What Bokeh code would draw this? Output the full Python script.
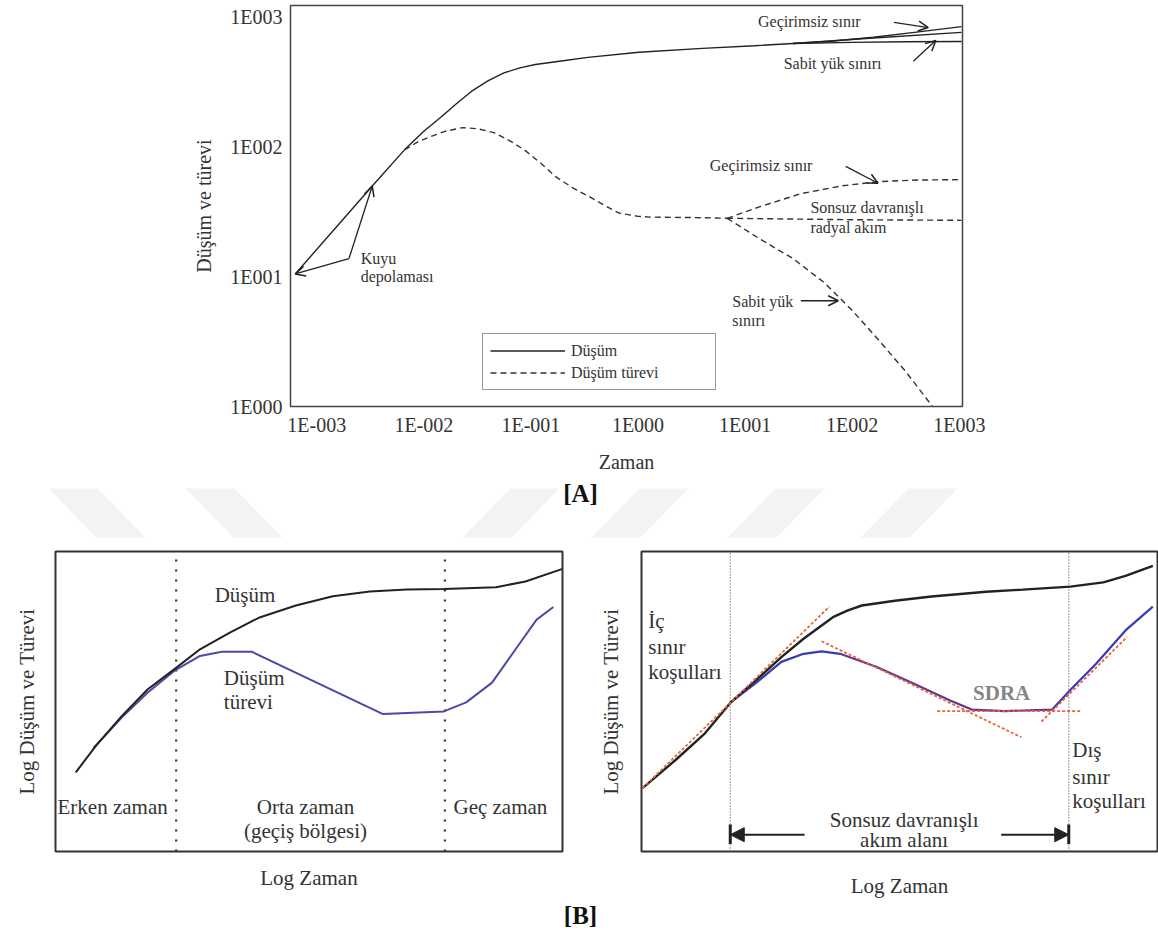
from bokeh.plotting import figure
from bokeh.models import (Range1d, FixedTicker, Label, Arrow, OpenHead, NormalHead,
                          Legend, LegendItem)
from bokeh.layouts import column, row
from bokeh.embed import file_html
from bokeh.resources import INLINE

SERIF = "Liberation Serif"
INK = "#222222"
TEXT = "#333333"

# ---------------- [A] drawdown and derivative on log-log axes ----------------
time_ticks = [1e-3, 1e-2, 1e-1, 1e0, 1e1, 1e2, 1e3]
time_tick_labels = ["1E-003", "1E-002", "1E-001", "1E000", "1E001", "1E002", "1E003"]
dd_ticks = [1e0, 1e1, 1e2, 1e3]
dd_tick_labels = ["1E000", "1E001", "1E002", "1E003"]

# drawdown (Düşüm), common part
t_drawdown = [6.3e-4, 3.3e-3, 6.6e-3, 1.0e-2, 1.45e-2, 2.0e-2, 2.8e-2, 4.0e-2, 5.6e-2,
              7.9e-2, 0.11, 0.20, 0.34, 1.02, 4.0, 12.3, 28]
s_drawdown = [10.5, 50, 95, 132, 170, 214, 269, 324, 372, 407, 432, 462, 490, 537, 575, 603, 627]
# late-time branches of the drawdown
t_dd_noflow = [28, 63, 158, 398, 1050]
s_dd_noflow = [627, 653, 700, 767, 845]
t_dd_radial = [28, 158, 1050]
s_dd_radial = [627, 692, 764]
t_dd_head = [28, 100, 316, 1050]
s_dd_head = [627, 640, 647, 650]

# derivative (Düşüm türevi), common part
t_deriv = [6.6e-3, 8.9e-3, 1.15e-2, 1.58e-2, 2.3e-2, 3.2e-2, 4.5e-2, 6.3e-2, 8.7e-2, 0.126,
           0.17, 0.25, 0.34, 0.50, 0.66, 1.0, 1.29, 4.0, 6.8]
s_deriv = [95, 110, 120, 132, 141, 138, 129, 112, 95, 74, 59, 48, 42, 35, 31, 29.2, 28.8, 28.5, 28.2]
# late-time branches of the derivative
t_der_noflow = [6.8, 13.8, 33, 78, 174, 398, 1050]
s_der_noflow = [28.2, 34.7, 43.6, 50, 54, 55.6, 56]
t_der_radial = [6.8, 100, 1050]
s_der_radial = [28.2, 27.5, 27.2]
t_der_head = [6.8, 13.8, 28, 54, 98, 174, 316, 562]
s_der_head = [28.2, 19.5, 13.8, 9.1, 5.6, 3.3, 1.86, 1.0]

# annotation texts of [A] (left edge / vertical centre)
a_notes = ["Geçirimsiz sınır", "Sabit yük sınırı", "Geçirimsiz sınır", "Sonsuz davranışlı",
           "radyal akım", "Sabit yük", "sınırı", "Kuyu", "depolaması"]
a_note_t = [13.2, 22.9, 4.68, 40.7, 40.7, 7.59, 7.59, 2.57e-3, 2.57e-3]
a_note_s = [933, 437, 72.4, 33.9, 24.0, 6.46, 4.57, 13.8, 10.0]

# pointer arrows of [A]: start -> tip
a_arrow_t0 = [245, 372, 87, 33.1, 2.0e-3, 2.0e-3]
a_arrow_s0 = [912, 457, 70.8, 6.53, 13.8, 13.8]
a_arrow_t1 = [513, 603, 174, 74.1, 6.3e-4, 3.3e-3]
a_arrow_s1 = [832, 661, 52.5, 6.53, 10.5, 50]

legend_labels = ["Düşüm", "Düşüm türevi"]

pA = figure(width=1158, height=475, x_axis_type="log", y_axis_type="log",
            x_range=Range1d(10 ** -3.245, 10 ** 3.03), y_range=Range1d(1.0, 10 ** 3.09),
            output_backend="svg", toolbar_location=None,
            min_border_left=290, min_border_right=196, min_border_top=5, min_border_bottom=69,
            background_fill_color="white", border_fill_color="white")
pA.outline_line_color = "#444444"
pA.outline_line_width = 1.5
pA.grid.visible = False

for ax, ticks, labels in ((pA.xaxis[0], time_ticks, time_tick_labels),
                          (pA.yaxis[0], dd_ticks, dd_tick_labels)):
    ax.ticker = FixedTicker(ticks=ticks)
    ax.major_label_overrides = {float(v): s for v, s in zip(ticks, labels)}
    ax.major_tick_line_color = None
    ax.major_tick_out = 0
    ax.major_tick_in = 0
    ax.minor_tick_line_color = None
    ax.minor_tick_out = 0
    ax.axis_line_color = None
    ax.major_label_text_font = SERIF
    ax.major_label_text_font_size = "20px"
    ax.major_label_text_color = TEXT
    ax.axis_label_text_font = SERIF
    ax.axis_label_text_font_style = "normal"
    ax.axis_label_text_color = TEXT

pA.xaxis.axis_label = "Zaman"
pA.xaxis.axis_label_text_font_size = "20px"
pA.xaxis.major_label_standoff = 7
pA.xaxis.axis_label_standoff = 12
pA.yaxis.axis_label = "Düşüm ve türevi"
pA.yaxis.axis_label_text_font_size = "20px"
pA.yaxis.major_label_standoff = 8
pA.yaxis.axis_label_standoff = 12

solid = dict(line_color=INK, line_width=1.4)
dashed = dict(line_color="#333333", line_width=1.4, line_dash="6 4")

r_dd = pA.line(t_drawdown, s_drawdown, **solid)
for tx, sy in ((t_dd_noflow, s_dd_noflow), (t_dd_radial, s_dd_radial), (t_dd_head, s_dd_head)):
    pA.line(tx, sy, **solid)
r_der = pA.line(t_deriv, s_deriv, **dashed)
for tx, sy in ((t_der_noflow, s_der_noflow), (t_der_radial, s_der_radial), (t_der_head, s_der_head)):
    pA.line(tx, sy, **dashed)

for txt, tx, sy in zip(a_notes, a_note_t, a_note_s):
    pA.add_layout(Label(x=tx, y=sy, text=txt, text_font=SERIF, text_font_size="16px",
                        text_color=TEXT, text_baseline="middle", text_align="left"))

for x0, y0, x1, y1 in zip(a_arrow_t0, a_arrow_s0, a_arrow_t1, a_arrow_s1):
    pA.add_layout(Arrow(x_start=x0, y_start=y0, x_end=x1, y_end=y1,
                        line_color=INK, line_width=1.3,
                        end=OpenHead(size=10, line_color=INK, line_width=1.5)))

legA = Legend(items=[LegendItem(label=legend_labels[0], renderers=[r_dd]),
                     LegendItem(label=legend_labels[1], renderers=[r_der])],
              location=(192, 16), orientation="vertical",
              glyph_width=75, glyph_height=19, label_height=19, label_width=137,
              label_standoff=6, padding=7, spacing=3, margin=0,
              label_text_font=SERIF, label_text_font_size="16px", label_text_color=TEXT,
              border_line_color="#333333", border_line_width=1.5, background_fill_alpha=1)
pA.add_layout(legA)

# ---------------- band with the [A] caption and the page watermark ----------------
wm_back_x = [48, 185]             # "\" stripes, left x at the top edge
wm_fwd_x = [510, 639, 775, 908]   # "/" stripes, left x at the top edge
wm_top, wm_bottom, wm_w, wm_shift = 13, 62, 49, 48

band = figure(width=1158, height=70, x_range=Range1d(0, 1158), y_range=Range1d(70, 0),
              output_backend="svg", toolbar_location=None, min_border=0)
band.axis.visible = False
band.grid.visible = False
band.outline_line_color = None
xs, ys = [], []
for x0 in wm_back_x:
    xs.append([x0, x0 + wm_w, x0 + wm_w + wm_shift, x0 + wm_shift])
    ys.append([wm_top, wm_top, wm_bottom, wm_bottom])
for x0 in wm_fwd_x:
    xs.append([x0, x0 + wm_w, x0 + wm_w - wm_shift, x0 - wm_shift])
    ys.append([wm_top, wm_top, wm_bottom, wm_bottom])
band.patches(xs, ys, fill_color="#f3f3f3", line_color=None)
band.add_layout(Label(x=580, y=18, text="[A]", text_font=SERIF, text_font_size="25px",
                      text_font_style="bold", text_color="#111111",
                      text_align="center", text_baseline="middle"))

# ---------------- [B] schematic diagnostic plots (log axes, no scale) ----------------
# left: flow periods
bl_t = [0.40, 0.80, 1.31, 1.82, 2.34, 2.85, 3.43, 4.01, 4.74, 5.47, 6.20, 6.93, 7.66, 8.69, 9.27, 10.0]
bl_s = [2.64, 3.53, 4.52, 5.41, 6.07, 6.74, 7.29, 7.79, 8.20, 8.51, 8.67, 8.73, 8.75, 8.81, 9.00, 9.42]
bl_dt = [0.75, 1.31, 1.82, 2.34, 2.85, 3.28, 3.87, 6.46, 7.66, 8.10, 8.61, 9.12, 9.49, 9.82]
bl_ds = [3.45, 4.47, 5.30, 6.02, 6.52, 6.66, 6.66, 4.58, 4.67, 4.97, 5.63, 6.85, 7.73, 8.15]
bl_bounds = [2.38, 7.68]
bl_notes = ["Düşüm", "Düşüm", "türevi", "Erken zaman", "Orta zaman", "(geçiş bölgesi)", "Geç zaman"]
bl_note_x = [3.14, 3.32, 3.32, 0.04, 4.93, 4.93, 7.85]
bl_note_y = [8.56, 5.80, 4.97, 1.50, 1.50, 0.70, 1.50]
bl_note_align = ["left", "left", "left", "left", "center", "center", "left"]

# right: boundary conditions and infinite-acting radial flow
br_t = [0.02, 0.66, 1.23, 1.74, 2.22, 2.71, 3.14, 3.71, 4.0, 4.27, 4.91, 5.62, 6.68, 7.39, 8.31, 8.95, 9.38, 9.91]
br_s = [2.11, 3.05, 3.94, 4.99, 5.71, 6.48, 7.09, 7.81, 8.04, 8.20, 8.36, 8.50, 8.66, 8.73, 8.83, 8.97, 9.19, 9.52]
br_dt = [1.74, 2.22, 2.71, 3.14, 3.49, 3.85, 4.56, 5.27, 5.97, 6.40, 7.04, 7.96, 8.31, 8.81, 9.38, 9.91]
br_ds = [4.99, 5.62, 6.32, 6.59, 6.67, 6.59, 6.15, 5.60, 5.04, 4.73, 4.68, 4.73, 5.38, 6.26, 7.37, 8.16]
br_tan_t = [[0.02, 3.64], [3.49, 7.36], [5.73, 8.53], [7.75, 9.41]]
br_tan_s = [[2.11, 8.16], [7.01, 3.81], [4.68, 4.68], [4.33, 7.15]]
br_bounds = [1.72, 8.28]
br_notes = ["İç", "sınır", "koşulları", "Dış", "sınır", "koşulları",
            "Sonsuz davranışlı", "akım alanı"]
br_note_x = [0.13, 0.13, 0.13, 8.35, 8.35, 8.35, 5.09, 5.09]
br_note_y = [7.70, 6.81, 5.98, 3.38, 2.50, 1.67, 1.06, 0.40]
br_note_align = ["left", "left", "left", "left", "left", "left", "center", "center"]
br_span_y = 0.56
br_span_inner = [3.16, 6.97]


def schematic(width, left, right, top, bottom):
    p = figure(width=width, height=355, x_range=Range1d(0, 10), y_range=Range1d(0, 10),
               output_backend="svg", toolbar_location=None,
               min_border_left=left, min_border_right=right,
               min_border_top=top, min_border_bottom=bottom)
    p.grid.visible = False
    p.outline_line_color = "#333333"
    p.outline_line_width = 2
    for ax in (p.xaxis[0], p.yaxis[0]):
        ax.ticker = FixedTicker(ticks=[])
        ax.major_tick_line_color = None
        ax.major_tick_out = 0
        ax.major_tick_in = 0
        ax.minor_tick_line_color = None
        ax.minor_tick_out = 0
        ax.axis_line_color = None
        ax.major_label_text_font_size = "0px"
        ax.major_label_standoff = 0
        ax.axis_label_text_font = SERIF
        ax.axis_label_text_font_size = "21px"
        ax.axis_label_text_font_style = "normal"
        ax.axis_label_text_color = TEXT
    p.xaxis.axis_label = "Log Zaman"
    p.yaxis.axis_label = "Log Düşüm ve Türevi"
    return p


def notes(p, texts, xs_, ys_, aligns, size="21px", color=TEXT, style="normal"):
    for txt, x, y, al in zip(texts, xs_, ys_, aligns):
        p.add_layout(Label(x=x, y=y, text=txt, text_font=SERIF, text_font_size=size,
                           text_color=color, text_font_style=style,
                           text_align=al, text_baseline="middle"))


pBL = schematic(595, 55, 33, 6, 46)
pBL.xaxis.axis_label_standoff = 14
pBL.yaxis.axis_label_standoff = 17
for xb in bl_bounds:
    pBL.line([xb, xb], [0, 10], line_color="#333333", line_width=2.2, line_dash="2 8")
pBL.line(bl_dt, bl_ds, line_color="#4a4aa8", line_width=2)
pBL.line(bl_t, bl_s, line_color=INK, line_width=2)
notes(pBL, bl_notes, bl_note_x, bl_note_y, bl_note_align)

pBR = schematic(563, 44, 1, 6, 48)
pBR.xaxis.axis_label_standoff = 22
pBR.yaxis.axis_label_standoff = 19
for xb in br_bounds:
    pBR.line([xb, xb], [0, 10], line_color="#6f6f6f", line_width=1.4, line_dash="1 2")
pBR.line(br_dt, br_ds, line_color="#3a3ab4", line_width=2.2)
pBR.line(br_dt[5:12], br_ds[5:12], line_color="#c0303a", line_width=1.2, line_alpha=0.55)
pBR.line(br_t, br_s, line_color=INK, line_width=2.4)
pBR.multi_line(br_tan_t, br_tan_s, line_color="#e8643c", line_width=1.8, line_dash="3 2")
notes(pBR, br_notes, br_note_x, br_note_y, br_note_align)
notes(pBR, ["SDRA"], [6.98], [5.27], ["center"], size="21px", color="#858585", style="bold")
# span arrows of the infinite-acting period
for x_in, x_b in zip(br_span_inner, br_bounds):
    pBR.add_layout(Arrow(x_start=x_in, y_start=br_span_y, x_end=x_b, y_end=br_span_y,
                         line_color=INK, line_width=2,
                         end=NormalHead(size=14, fill_color=INK, line_color=INK)))
pBR.segment(x0=br_bounds, y0=[0.25, 0.25], x1=br_bounds, y1=[0.9, 0.9], line_color=INK, line_width=3)

# ---------------- [B] caption ----------------
bandB = figure(width=1158, height=45, x_range=Range1d(0, 1158), y_range=Range1d(45, 0),
               output_backend="svg", toolbar_location=None, min_border=0)
bandB.axis.visible = False
bandB.grid.visible = False
bandB.outline_line_color = None
bandB.add_layout(Label(x=580, y=15, text="[B]", text_font=SERIF, text_font_size="25px",
                       text_font_style="bold", text_color="#111111",
                       text_align="center", text_baseline="middle"))

page = column(row(pA), row(band), row(pBL, pBR), row(bandB), spacing=0)
open("out.html", "w").write(file_html(page, INLINE))
